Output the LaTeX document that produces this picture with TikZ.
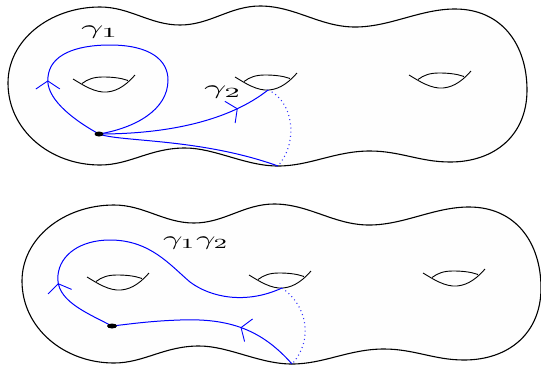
\documentclass[tikz,border=0pt]{standalone}
\usetikzlibrary{arrows.meta,decorations.markings}
\tikzset{
  outline/.style={draw=black, line width=1.1pt, fill=black!0.4},
  holeline/.style={draw=black, line width=0.9pt},
  curve/.style={draw=blue, line width=1pt},
  dotcurve/.style={draw=blue!80, line width=1.1pt, dash pattern=on 1pt off 3.2pt},
  midarrow/.style={postaction=decorate, decoration={markings,
     mark=at position #1 with {\arrow{Straight Barb[length=8pt,width=24pt,line width=0.9pt]}}}},
  lbl/.style={inner sep=0pt}
}
\newcommand{\handle}[1]{%
  \begin{scope}[shift={#1}]
    \draw[holeline] (0,0) .. controls (10,6) and (22,14) .. (34,13) .. controls (46,12) and (55,4) .. (62,-4);
    \draw[holeline] (9,4.5) .. controls (15,0) and (21,-2) .. (30,-2) .. controls (40,-2) and (48,-1) .. (55,1.5);
  \end{scope}}
\newcommand{\surface}[1]{%
  \begin{scope}[shift={#1}]
    \path[outline] (8,83) .. controls (8,40) and (50,7) .. (100,7)
      .. controls (130,7) and (150,25) .. (180,25)
      .. controls (210,25) and (230,6) .. (260,6)
      .. controls (295,6) and (320,27) .. (355,27)
      .. controls (390,27) and (420,9) .. (455,9)
      .. controls (502,9) and (527,45) .. (527,90)
      .. controls (527,135) and (495,162) .. (450,162)
      .. controls (420,162) and (400,151) .. (370,151)
      .. controls (335,151) and (310,166) .. (278,166)
      .. controls (245,166) and (215,148) .. (185,148)
      .. controls (150,148) and (130,165) .. (100,165)
      .. controls (50,165) and (8,130) .. (8,83) -- cycle;
    \handle{(73,79)}
    \handle{(235,77)}
    \handle{(409,75)}
  \end{scope}}
\begin{document}
\begin{tikzpicture}[x=1pt,y=-1pt]
\useasboundingbox (0,0) rectangle (541,365);
% ---------- top surface ----------
\surface{(0,0)}
\coordinate (p1) at (99,134);
\coordinate (h1) at (268,90);
\coordinate (d1) at (278,166);
\draw[curve, midarrow=0.235] (p1) .. controls (70,118) and (45,97) .. (48,77)
  .. controls (50,55) and (75,45) .. (110,45)
  .. controls (150,45) and (168,60) .. (168,80)
  .. controls (168,110) and (135,128) .. (p1);
\draw[curve, midarrow=0.8] (p1) .. controls (170,134) and (230,120) .. (h1);
\draw[curve] (p1) .. controls (120,142) and (200,138) .. (d1);
\draw[dotcurve] (h1) .. controls (292,100) and (300,140) .. (d1);
\fill (p1) ellipse [x radius=4.5pt, y radius=2.5pt];
\node[lbl] (g1) at (100,32) {\scalebox{3.9}[2]{$\gamma_1$}};
\node[lbl] (g2) at (223,92) {\scalebox{3.9}[2]{$\gamma_2$}};
% ---------- bottom surface ----------
\surface{(14,198)}
\coordinate (p2) at (112,326);
\coordinate (h2) at (282,288);
\coordinate (d2) at (292,364);
\draw[curve, midarrow=0.21] (p2) .. controls (85,312) and (55,300) .. (58,275)
  .. controls (60,255) and (80,240) .. (110,240)
  .. controls (150,240) and (170,265) .. (190,282)
  .. controls (210,297) and (245,305) .. (h2);
\draw[curve, midarrow=0.33] (d2) .. controls (262,330) and (230,318) .. (180,320)
  .. controls (150,321) and (130,324) .. (p2);
\draw[dotcurve] (h2) .. controls (307,305) and (314,340) .. (d2);
\fill (p2) ellipse [x radius=5pt, y radius=2.5pt];
\node[lbl] (g12) at (196,243) {\scalebox{3.4}[2]{$\gamma_1\gamma_2$}};
\end{tikzpicture}
\end{document}
